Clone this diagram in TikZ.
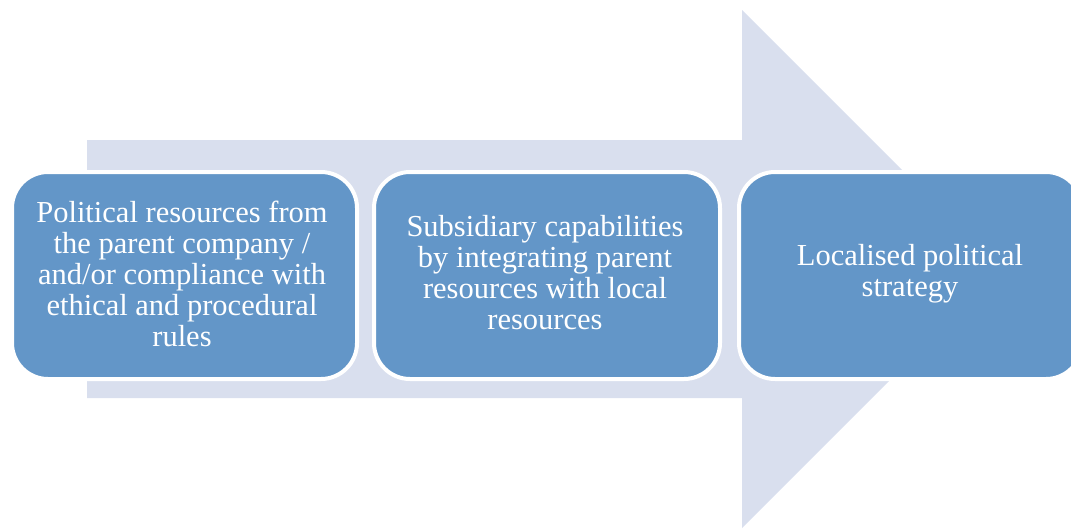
\documentclass[tikz,border=0pt]{standalone}
\usepackage{fontspec}
\setmainfont{Liberation Serif}
\definecolor{arrowfill}{HTML}{D9DFEE}
\definecolor{boxfill}{HTML}{6396C8}
\begin{document}
\begin{tikzpicture}[x=1pt,y=-1pt,
  stagebox/.style={draw=white, line width=4pt, fill=boxfill, rounded corners=36pt,
    minimum width=#1, minimum height=207pt, anchor=north west, inner sep=0pt},
  stagetext/.style={text=white, align=center, font=\fontsize{30.5}{31}\selectfont}]
  \useasboundingbox (0,0) rectangle (1071,531);
  \clip (0,0) rectangle (1071,531);
  % background block arrow
  \fill[arrowfill] (87,140) -- (742,140) -- (742,10) -- (1001,269)
    -- (742,528) -- (742,398) -- (87,398) -- cycle;
  % three stage boxes
  \node[stagebox=345pt] (b1) at (10,170) {};
  \node[stagebox=346pt] (b2) at (372,170) {};
  \node[stagebox=343pt] (b3) at (737,170) {};
  \node[stagetext] (t1) at (182,274) {Political resources from\\the parent company /\\and/or compliance with\\ethical and procedural\\rules};
  \node[stagetext] (t2) at (545,273) {Subsidiary capabilities\\by integrating parent\\resources with local\\resources};
  \node[stagetext] (t3) at (910,274) {Localised political\\strategy};
\end{tikzpicture}
\end{document}
